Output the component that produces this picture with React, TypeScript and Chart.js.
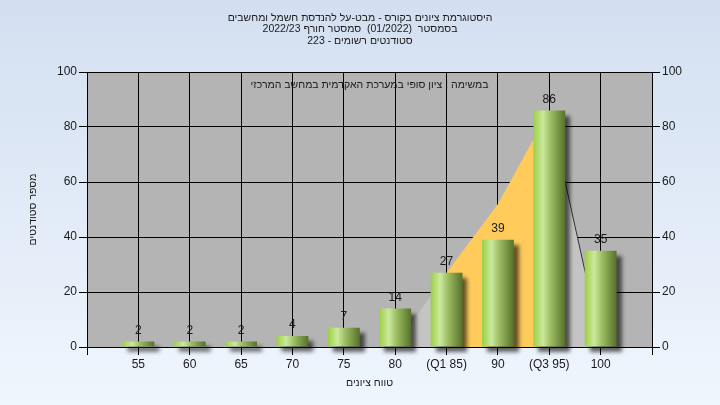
import React, { useEffect, useRef } from 'react';
import { Chart, registerables } from 'chart.js';

Chart.register(...registerables);

const categories = ['', '55', '60', '65', '70', '75', '80', '(Q1 85)', '90', '(Q3 95)', '100', ''];
const counts: (number | null)[] = [null, 2, 2, 2, 4, 7, 14, 27, 39, 86, 35, null];
const curve: (number | null)[] = [null, null, null, null, null, null, 0, 27, 52, 86, 2, null];
const yTicks = [0, 20, 40, 60, 80, 100];
const titleLines = [
  'היסטוגרמת ציונים בקורס - מבט-על להנדסת חשמל ומחשבים',
  'בסמסטר  (01/2022)  סמסטר חורף 2022/23',
  'סטודנטים רשומים - 223',
];
const noteText = 'במשימה : ציון סופי במערכת האקדמית במחשב המרכזי';
const xTitle = 'טווח ציונים';
const yTitle = 'מספר סטודנטים';

const FONT = "'Liberation Sans', Arial, sans-serif";
const HEB = `10.5px ${FONT}`;
const Q1_INDEX = 7;
const Q3_INDEX = 9;

const decorPlugin = {
  id: 'decor',
  beforeDraw(chart: any) {
    const { ctx, width, height, chartArea: a } = chart;
    ctx.save();
    const g = ctx.createLinearGradient(0, 0, 0, height);
    g.addColorStop(0, '#d3dff1');
    g.addColorStop(1, '#eff6fd');
    ctx.fillStyle = g;
    ctx.fillRect(0, 0, width, height);
    ctx.fillStyle = '#b4b4b4';
    ctx.fillRect(a.left, a.top, a.right - a.left, a.bottom - a.top);
    ctx.restore();
  },
  beforeDatasetDraw(chart: any, args: any) {
    if (args.index === 0) {
      const ctx = chart.ctx;
      ctx.save();
      ctx.shadowColor = 'rgba(0,0,0,0.6)';
      ctx.shadowOffsetX = 5;
      ctx.shadowOffsetY = 5;
      ctx.shadowBlur = 4;
    }
  },
  afterDatasetDraw(chart: any, args: any) {
    if (args.index === 0) chart.ctx.restore();
  },
  afterDatasetsDraw(chart: any) {
    const { ctx } = chart;
    const meta = chart.getDatasetMeta(0);
    ctx.save();
    ctx.font = `12px ${FONT}`;
    ctx.fillStyle = '#1a1a1a';
    ctx.textAlign = 'center';
    ctx.textBaseline = 'middle';
    meta.data.forEach((el: any, i: number) => {
      const v = counts[i];
      if (v == null) return;
      ctx.fillText(String(v), el.x, el.y - 11);
    });
    ctx.restore();
  },
  afterDraw(chart: any) {
    const { ctx, chartArea: a } = chart;
    ctx.save();
    ctx.direction = 'rtl';
    ctx.font = HEB;
    ctx.fillStyle = '#1a1a1a';
    ctx.textAlign = 'center';
    ctx.textBaseline = 'middle';
    const cx = 360;
    titleLines.forEach((t, i) => ctx.fillText(t, cx, 18 + i * 11.5));
    const pcx = (a.left + a.right) / 2;
    ctx.fillText(noteText, pcx, a.top + 13);
    ctx.fillText(xTitle, pcx, 383);
    ctx.translate(33, (a.top + a.bottom) / 2);
    ctx.rotate(-Math.PI / 2);
    ctx.fillText(yTitle, 0, 0);
    ctx.restore();
  },
};

function barGradient(c: any) {
  const chart = c.chart;
  const xs = chart.scales && chart.scales.x;
  if (!xs || c.type !== 'data') return '#9ccc48';
  const x = xs.getPixelForValue(c.dataIndex);
  const step = xs.getPixelForValue(1) - xs.getPixelForValue(0);
  if (!isFinite(x) || !isFinite(step) || step <= 0) return '#9ccc48';
  const w = step * 0.62;
  const g = chart.ctx.createLinearGradient(x - w / 2, 0, x + w / 2, 0);
  g.addColorStop(0, '#9ccf45');
  g.addColorStop(0.3, '#cbe99d');
  g.addColorStop(0.55, '#9cbc62');
  g.addColorStop(1, '#55712a');
  return g;
}

export default function App() {
  const ref = useRef<HTMLCanvasElement | null>(null);

  useEffect(() => {
    if (!ref.current) return;
    const axisFont = { size: 12, family: FONT };
    const chart = new Chart(ref.current, {
      type: 'bar',
      data: {
        labels: categories,
        datasets: [
          {
            type: 'bar',
            data: counts as any,
            order: 1,
            backgroundColor: barGradient as any,
            borderWidth: 0,
            categoryPercentage: 1,
            barPercentage: 0.62,
            clip: false as any,
          },
          {
            type: 'line',
            data: curve as any,
            order: 2,
            fill: 'origin',
            pointRadius: 0,
            borderWidth: 1,
            tension: 0,
            backgroundColor: '#c4c4c4',
            borderColor: 'rgba(0,0,0,0)',
            segment: {
              backgroundColor: (s: any) =>
                s.p0DataIndex >= Q1_INDEX && s.p1DataIndex <= Q3_INDEX ? '#ffcb5a' : '#c4c4c4',
              borderColor: (s: any) => (s.p0DataIndex === Q3_INDEX ? '#333333' : 'rgba(0,0,0,0)'),
            },
          } as any,
        ],
      },
      options: {
        animation: false,
        responsive: false,
        devicePixelRatio: 1,
        layout: { padding: { top: 72, left: 0, right: 0, bottom: 0 } },
        plugins: {
          legend: { display: false },
          title: { display: false },
          tooltip: { enabled: false },
        },
        scales: {
          x: {
            type: 'category',
            offset: false,
            grid: { offset: false, color: '#000', lineWidth: 1, tickLength: 8, tickColor: '#000' },
            border: { color: '#000' },
            ticks: { color: '#1a1a1a', font: axisFont, padding: 2, autoSkip: false, maxRotation: 0 },
            afterFit: (s: any) => {
              s.height = 58;
            },
          },
          y: {
            type: 'linear',
            position: 'left',
            min: 0,
            max: 100,
            afterBuildTicks: (s: any) => {
              s.ticks = yTicks.map((v) => ({ value: v }));
            },
            grid: { color: '#000', lineWidth: 1, tickLength: 8, tickColor: '#000' },
            border: { color: '#000' },
            ticks: { color: '#1a1a1a', font: axisFont, padding: 2 },
            afterFit: (s: any) => {
              s.width = 87;
            },
          },
          y2: {
            type: 'linear',
            position: 'right',
            min: 0,
            max: 100,
            afterBuildTicks: (s: any) => {
              s.ticks = yTicks.map((v) => ({ value: v }));
            },
            grid: { drawOnChartArea: false, tickLength: 8, tickColor: '#000', color: '#000' },
            border: { color: '#000' },
            ticks: { color: '#1a1a1a', font: axisFont, padding: 2 },
            afterFit: (s: any) => {
              s.width = 68;
            },
          },
        },
      } as any,
      plugins: [decorPlugin as any],
    });
    return () => chart.destroy();
  }, []);

  return (
    <div style={{ position: 'absolute', left: 0, top: 0, width: 720, height: 405 }}>
      <canvas ref={ref} width={720} height={405} style={{ display: 'block', width: 720, height: 405 }} />
    </div>
  );
}
